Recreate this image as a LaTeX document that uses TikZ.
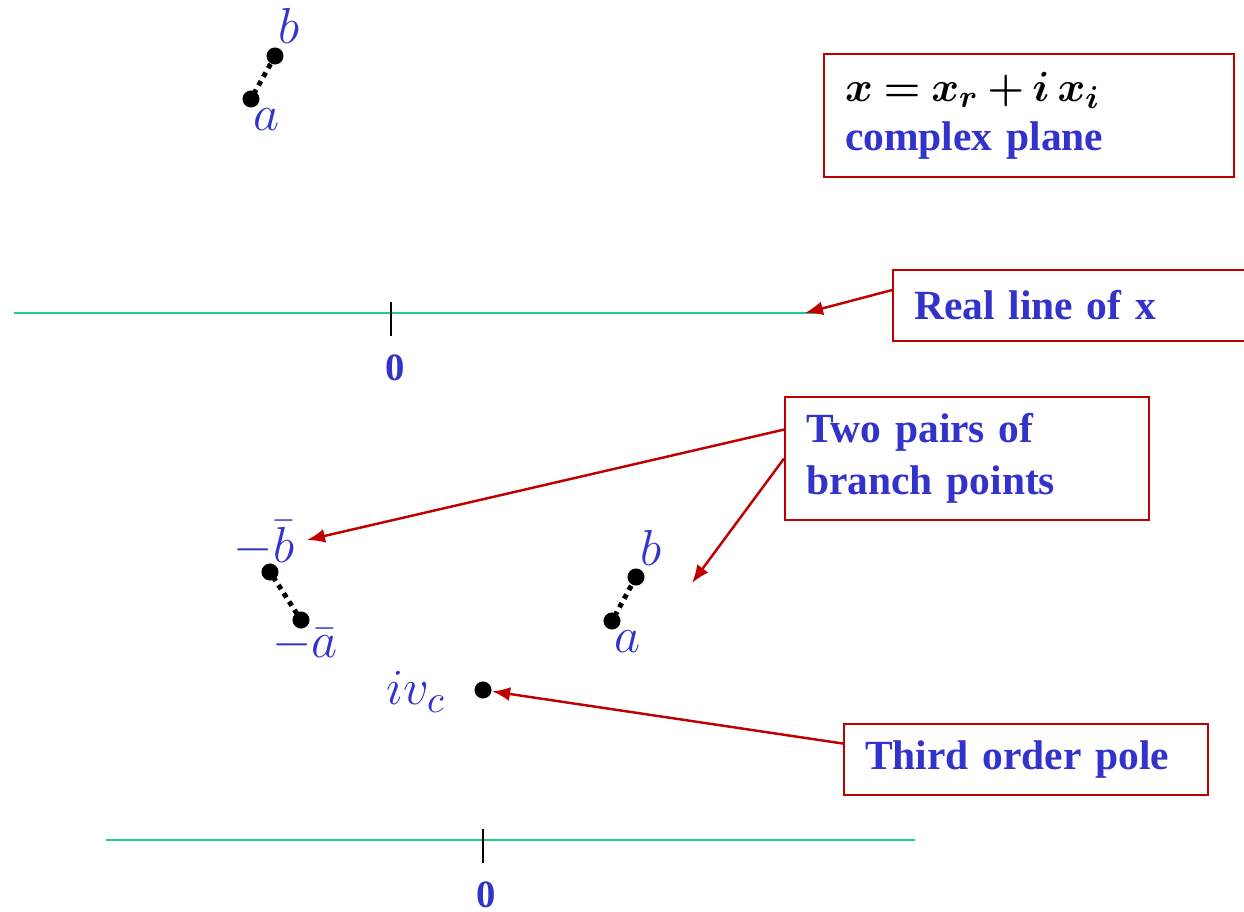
\documentclass[tikz,border=0pt]{standalone}
\usepackage{fontspec}
\setmainfont{Liberation Serif}
\usepackage{amsmath}
\usetikzlibrary{arrows.meta}
\definecolor{lblue}{RGB}{51,51,204}
\definecolor{boxred}{RGB}{192,0,0}
\definecolor{axgreen}{RGB}{32,201,151}
\tikzset{
  note/.style={draw=boxred, line width=0.6pt, anchor=north west, align=left,
               inner xsep=0.21cm, inner ysep=0pt, text=lblue,
               font=\fontsize{11.8}{14.8}\selectfont\bfseries},
  dot/.style={circle, fill=black, inner sep=0pt, minimum size=0.17cm},
  cut/.style={line width=1.4pt, dash pattern=on 1.4pt off 1.4pt, shorten <=-1pt, shorten >=-1pt},
  lbl/.style={text=lblue, inner sep=0pt, font=\fontsize{15}{18}\selectfont},
  zero/.style={text=lblue, inner sep=0pt, font=\fontsize{11}{13}\selectfont\bfseries},
  axis/.style={draw=axgreen, line width=0.6pt},
  tick/.style={draw=black, line width=0.6pt},
  point/.style={-{Latex[length=0.18cm, width=0.14cm]}, draw=boxred, line width=0.7pt},
}
\begin{document}
\begin{tikzpicture}[x=0.01cm, y=-0.01cm]
  \useasboundingbox (0,0) rectangle (1244,912);

  % upper plane
  \node[dot] (a1) at (251,99) {};
  \node[dot] (b1) at (275,56) {};
  \draw[cut] (a1) -- (b1);
  \node[lbl] (la1) at (267,120) {$a$};
  \node[lbl] (lb1) at (289,26) {$b$};

  \node[note, text width=3.68cm, minimum height=1.23cm] (plane) at (823,53)
    {{\color{black}\fontsize{12.5}{15}\selectfont\boldmath\thickmuskip=4mu\medmuskip=3mu$x = x_r + i\,x_i$}\\[-1pt]complex plane};

  \coordinate (ax1l) at (14,313);
  \coordinate (ax1r) at (823,313);
  \coordinate (tip1) at (805,313);
  \draw[axis] (ax1l) -- (ax1r);
  \coordinate (t1a) at (391,302);
  \coordinate (t1b) at (391,336);
  \draw[tick] (t1a) -- (t1b);
  \node[zero] (z1) at (395,368) {0};

  \node[note, text width=3.10cm, minimum height=0.71cm] (realbox) at (892,269)
    {Real line of x};
  \draw[point] (realbox.175) -- (tip1);

  % lower plane
  \node[note, text width=3.22cm, minimum height=1.23cm] (pairs) at (784,396)
    {Two pairs of\\branch points};
  \node[dot] (mb) at (270,572) {};
  \node[dot] (ma) at (301,620) {};
  \draw[cut] (mb) -- (ma);
  \node[lbl] (lmb) at (264,544) {$-\bar{b}$};
  \node[lbl] (lma) at (305,645) {$-\bar{a}$};

  \node[dot] (a2) at (612,621) {};
  \node[dot] (b2) at (636,577) {};
  \draw[cut] (a2) -- (b2);
  \node[lbl] (la2) at (628,642) {$a$};
  \node[lbl] (lb2) at (651,548) {$b$};

  \coordinate (tip2) at (307,540);
  \coordinate (tip3) at (692,583);
  \draw[point] (pairs.171) -- (tip2);
  \draw[point] (pairs.180) -- (tip3);

  \node[dot] (pole) at (483,690) {};
  \node[lbl] (lpole) at (416,692) {$iv_c$};
  \node[note, text width=3.22cm, minimum height=0.71cm] (polebox) at (843,723)
    {Third order pole};
  \draw[point] (polebox.175) -- (pole);

  \coordinate (ax2l) at (106,840);
  \coordinate (ax2r) at (915,840);
  \draw[axis] (ax2l) -- (ax2r);
  \coordinate (t2a) at (483,829);
  \coordinate (t2b) at (483,863);
  \draw[tick] (t2a) -- (t2b);
  \node[zero] (z2) at (486,895) {0};
\end{tikzpicture}
\end{document}
